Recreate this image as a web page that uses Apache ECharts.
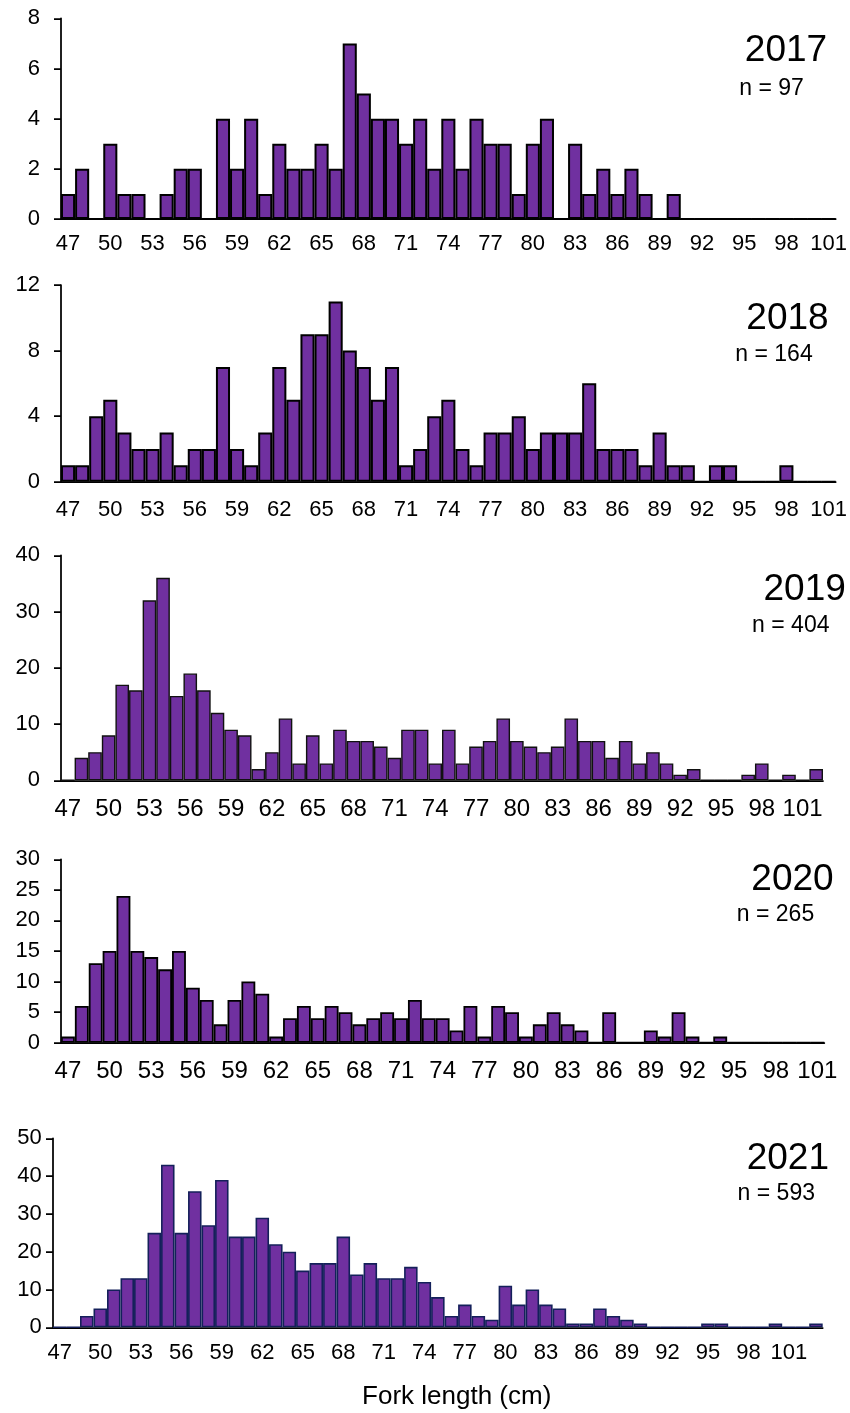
<!DOCTYPE html>
<html>
<head>
<meta charset="utf-8">
<script src="https://cdn.jsdelivr.net/npm/echarts@6/dist/echarts.min.js"></script>
<style>
  html, body { margin: 0; padding: 0; background: #ffffff; }
  #chart { width: 850px; height: 1413px; }
</style>
</head>
<body>
<div id="chart"></div>
<script>
// Fork-length classes (cm) for each yearly panel
const lengths47to101 = [47,48,49,50,51,52,53,54,55,56,57,58,59,60,61,62,63,64,65,66,67,68,69,70,71,72,73,74,75,76,77,78,79,80,81,82,83,84,85,86,87,88,89,90,91,92,93,94,95,96,97,98,99,100,101];
const lengths47to102 = [47,48,49,50,51,52,53,54,55,56,57,58,59,60,61,62,63,64,65,66,67,68,69,70,71,72,73,74,75,76,77,78,79,80,81,82,83,84,85,86,87,88,89,90,91,92,93,94,95,96,97,98,99,100,101,102];
const lengths47to103 = [47,48,49,50,51,52,53,54,55,56,57,58,59,60,61,62,63,64,65,66,67,68,69,70,71,72,73,74,75,76,77,78,79,80,81,82,83,84,85,86,87,88,89,90,91,92,93,94,95,96,97,98,99,100,101,102,103];

// Number of fish per 1-cm length class
const counts2017 = [1,2,0,3,1,1,0,1,2,2, 0,4,2,4,1,3,2,2,3,2, 7,5,4,4,3,4,2,4,2,4, 3,3,1,3,4,0,3,1,2,1, 2,1,0,1,0,0,0,0,0,0, 0,0,0,0,0];
const counts2018 = [1,1,4,5,3,2,2,3,1,2, 2,7,2,1,3,7,5,9,9,11, 8,7,5,7,1,2,4,5,2,1, 3,3,4,2,3,3,3,6,2,2, 2,1,3,1,1,0,1,1,0,0, 0,1,0,0,0];
const counts2019 = [0,4,5,8,17,16,32,36,15,19, 16,12,9,8,2,5,11,3,8,3, 9,7,7,6,4,9,9,3,9,3, 6,7,11,7,6,5,6,11,7,7, 4,7,3,5,3,1,2,0,0,0, 1,3,0,1,0,2];
const counts2020 = [1,6,13,15,24,15,14,12,15,9, 7,3,7,10,8,1,4,6,4,6, 5,3,4,5,4,7,4,4,2,6, 1,6,5,1,3,5,3,2,0,5, 0,0,2,1,5,1,0,1,0,0, 0,0,0,0,0];
const counts2021 = [0,0,3,5,10,13,13,25,43,25, 36,27,39,24,24,29,22,20,15,17, 17,24,14,17,13,13,16,12,8,3, 6,3,2,11,6,10,6,5,1,1, 5,3,2,1,0,0,0,0,1,1, 0,0,0,1,0,0,1];

// Panel headings
const years = ['2017', '2018', '2019', '2020', '2021'];
const sampleSizes = ['n = 97', 'n = 164', 'n = 404', 'n = 265', 'n = 593'];

// Count-axis ranges
const yMaxes = [8, 12, 40, 30, 50];
const ySteps = [2, 4, 10, 5, 10];

const xTitle = 'Fork length (cm)';

const FONT = '"Liberation Sans", Arial, sans-serif';
const FILL = '#7030A0';

// Layout of the five stacked panels
const panels = [
  { cats: lengths47to101, counts: counts2017,
    grid: { left: 61, top: 18.3, width: 775, height: 200.7 },
    xFont: 22, xMargin: 13.5, yMargin: 21, border: '#000000', borderW: 2,
    yearPos: [786, 51], nPos: [771.5, 88.5] },
  { cats: lengths47to101, counts: counts2018,
    grid: { left: 61, top: 285, width: 775, height: 196.7 },
    xFont: 22, xMargin: 17.3, yMargin: 21, border: '#000000', borderW: 2,
    yearPos: [787.5, 318.3], nPos: [774, 354.5] },
  { cats: lengths47to102, counts: counts2019,
    grid: { left: 61, top: 555.3, width: 762, height: 225 },
    xFont: 24, xMargin: 16.7, yMargin: 21, border: '#111111', borderW: 1.4,
    yearPos: [804.7, 590], nPos: [790.8, 625.7] },
  { cats: lengths47to101, counts: counts2020,
    grid: { left: 61, top: 859.3, width: 763.3, height: 183.4 },
    xFont: 24, xMargin: 16.3, yMargin: 21, border: '#000000', borderW: 1.8,
    yearPos: [792.5, 880], nPos: [775.5, 915] },
  { cats: lengths47to103, counts: counts2021,
    grid: { left: 53, top: 1138.3, width: 769.7, height: 189 },
    xFont: 22, xMargin: 15, yMargin: 11.3, border: '#14205A', borderW: 1.6,
    yearPos: [787.8, 1158.3], nPos: [776.3, 1194] }
];

const axisLineStyle = { color: '#000000', width: 1.75 };

const option = {
  animation: false,
  backgroundColor: '#ffffff',
  grid: panels.map(p => Object.assign({ containLabel: false }, p.grid)),
  xAxis: panels.map((p, i) => ({
    type: 'category',
    gridIndex: i,
    data: p.cats,
    axisLine: { show: true, lineStyle: axisLineStyle },
    axisTick: { show: false },
    splitLine: { show: false },
    axisLabel: {
      interval: 2,
      color: '#000000',
      fontFamily: FONT,
      fontSize: p.xFont,
      margin: p.xMargin
    }
  })),
  yAxis: panels.map((p, i) => ({
    type: 'value',
    gridIndex: i,
    min: 0,
    max: yMaxes[i],
    interval: ySteps[i],
    axisLine: { show: true, lineStyle: axisLineStyle },
    axisTick: { show: true, inside: false, length: 7, lineStyle: axisLineStyle },
    splitLine: { show: false },
    axisLabel: {
      color: '#000000',
      fontFamily: FONT,
      fontSize: 22,
      margin: p.yMargin
    }
  })),
  series: panels.map((p, i) => ({
    type: 'bar',
    name: years[i],
    xAxisIndex: i,
    yAxisIndex: i,
    data: p.counts,
    barCategoryGap: '0%',
    barGap: '0%',
    silent: true,
    itemStyle: { color: FILL, borderColor: p.border, borderWidth: p.borderW }
  })),
  graphic: []
};

panels.forEach((p, i) => {
  option.graphic.push({
    type: 'text', x: p.yearPos[0], y: p.yearPos[1], silent: true,
    style: { text: years[i], font: '37px ' + FONT, fill: '#000000',
             textAlign: 'center', textVerticalAlign: 'middle', align: 'center', verticalAlign: 'middle' }
  });
  option.graphic.push({
    type: 'text', x: p.nPos[0], y: p.nPos[1], silent: true,
    style: { text: sampleSizes[i], font: '23px ' + FONT, fill: '#000000',
             textAlign: 'center', textVerticalAlign: 'middle', align: 'center', verticalAlign: 'middle' }
  });
});

option.graphic.push({
  type: 'text', x: 456.7, y: 1397, silent: true,
  style: { text: xTitle, font: '26px ' + FONT, fill: '#000000',
           textAlign: 'center', textVerticalAlign: 'middle', align: 'center', verticalAlign: 'middle' }
});

const chart = echarts.init(document.getElementById('chart'), null, { renderer: 'canvas' });
chart.setOption(option);
</script>
</body>
</html>
